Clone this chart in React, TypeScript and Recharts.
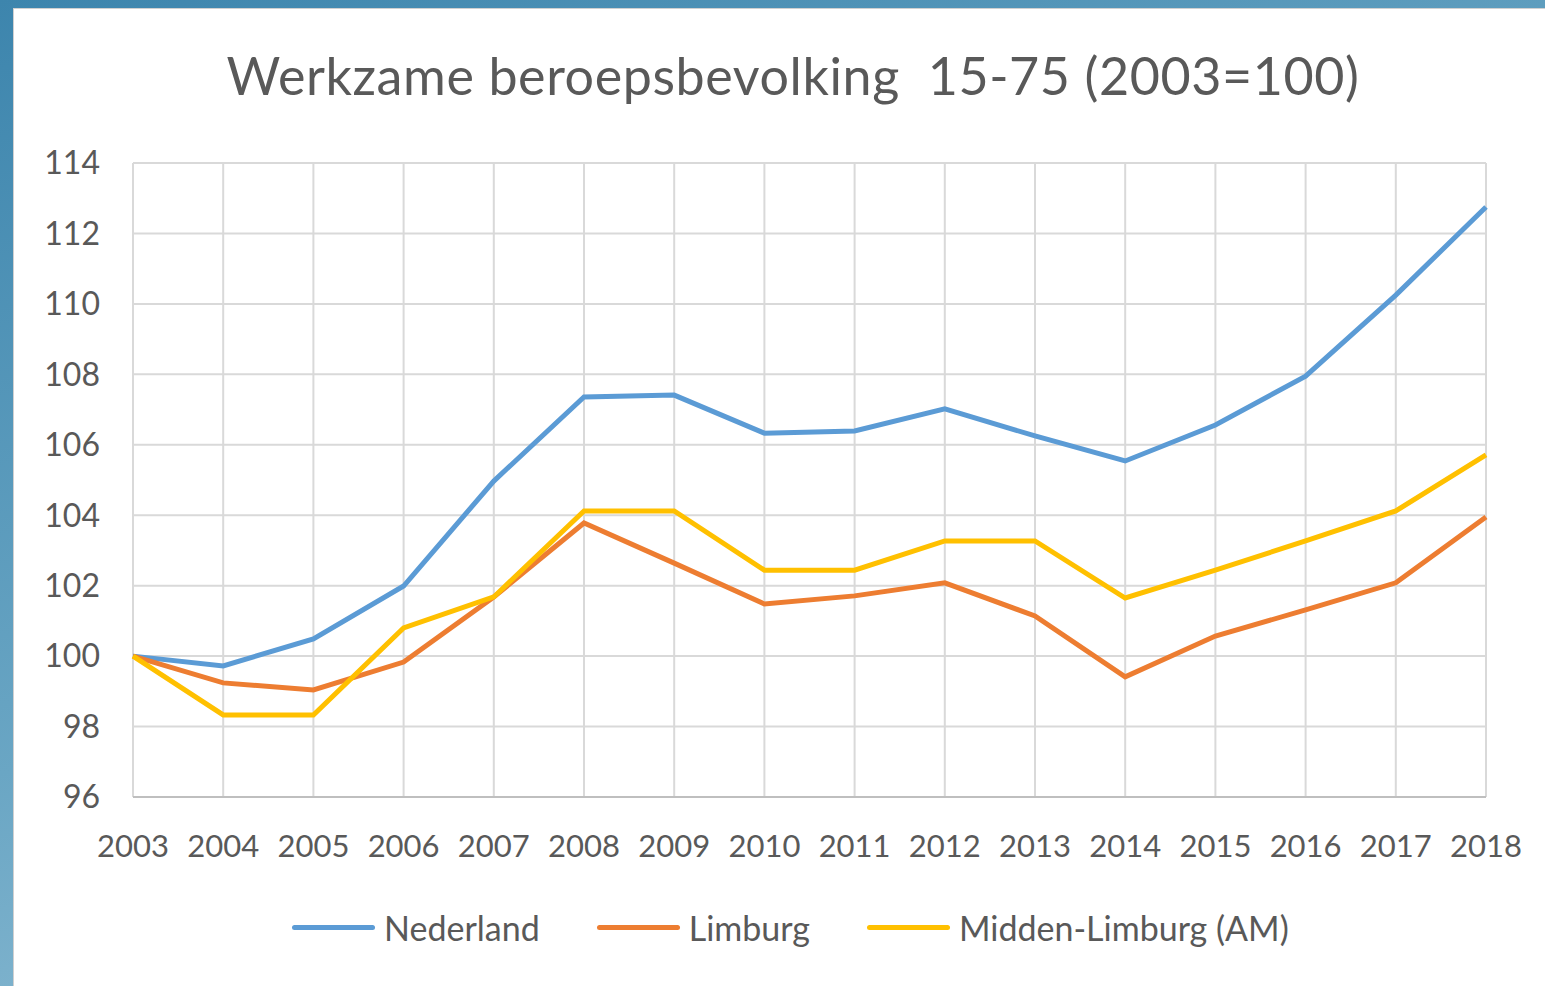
import React from "react";
import { LineChart, Line, XAxis, YAxis, CartesianGrid } from "recharts";

const years = ["2003", "2004", "2005", "2006", "2007", "2008", "2009", "2010", "2011", "2012", "2013", "2014", "2015", "2016", "2017", "2018"];
const nederland = [100, 99.72, 100.49, 101.99, 104.97, 107.36, 107.41, 106.33, 106.39, 107.02, 106.25, 105.54, 106.56, 107.95, 110.25, 112.75];
const limburg = [100, 99.24, 99.04, 99.83, 101.68, 103.78, 102.64, 101.48, 101.71, 102.08, 101.14, 99.41, 100.57, 101.31, 102.08, 103.95];
const middenLimburg = [100, 98.33, 98.33, 100.8, 101.68, 104.12, 104.12, 102.44, 102.44, 103.27, 103.27, 101.65, 102.44, 103.27, 104.12, 105.71];
const yTicks = [96, 98, 100, 102, 104, 106, 108, 110, 112, 114];

const series = [
  { key: "nl", name: "Nederland", color: "#5b9bd5", values: nederland },
  { key: "li", name: "Limburg", color: "#ed7d31", values: limburg },
  { key: "ml", name: "Midden-Limburg (AM)", color: "#ffc000", values: middenLimburg },
];

const data = years.map((year, i) => {
  const row: Record<string, string | number> = { year };
  series.forEach((s) => (row[s.key] = s.values[i]));
  return row;
});

const font = "Lato, 'Open Sans', sans-serif";
const textColor = "#595959";

export default function App() {
  return (
    <div
      style={{
        position: "absolute",
        left: 0,
        top: 0,
        width: 1545,
        height: 986,
        overflow: "hidden",
        background: "linear-gradient(160deg, #3d85ad 0%, #6aa6c4 50%, #a9cde0 100%)",
        fontFamily: font,
      }}
    >
      <div
        style={{
          position: "absolute",
          left: 13,
          top: 8,
          width: 1540,
          height: 990,
          background: "#fff",
          border: "1px solid #d0d0d0",
          boxSizing: "border-box",
        }}
      />
      <div
        style={{
          position: "absolute",
          left: 13,
          width: 1560,
          top: 44,
          textAlign: "center",
          fontSize: 52,
          color: textColor,
          letterSpacing: 0.6,
        }}
      >
        Werkzame beroepsbevolking&nbsp; 15-75 (2003=100)
      </div>
      <div style={{ position: "absolute", left: 0, top: 0 }}>
        <LineChart width={1545} height={986} data={data} margin={{ top: 163, right: 59, bottom: 129, left: 43 }}>
          <CartesianGrid stroke="#d9d9d9" strokeWidth={2} />
          <XAxis
            dataKey="year"
            axisLine={{ stroke: "#bfbfbf", strokeWidth: 2 }}
            tickLine={false}
            height={60}
            tickMargin={32}
            interval={0}
            tick={{ fill: textColor, fontSize: 31, fontFamily: font }}
          />
          <YAxis
            domain={[96, 114]}
            ticks={yTicks}
            width={90}
            axisLine={false}
            tickLine={false}
            tickMargin={27}
            tick={{ fill: textColor, fontSize: 32, fontFamily: font }}
          />
          {series.map((s) => (
            <Line
              key={s.key}
              dataKey={s.key}
              name={s.name}
              stroke={s.color}
              strokeWidth={5}
              dot={false}
              isAnimationActive={false}
            />
          ))}
        </LineChart>
      </div>
      <div
        style={{
          position: "absolute",
          top: 907,
          left: 292,
          display: "flex",
          alignItems: "center",
          fontSize: 34,
          color: textColor,
          whiteSpace: "nowrap",
        }}
      >
        {series.map((s, i) => (
          <div key={s.key} style={{ display: "flex", alignItems: "center", marginRight: i < series.length - 1 ? 57 : 0 }}>
            <div style={{ width: 83, height: 5, borderRadius: 3, background: s.color, marginRight: 9 }} />
            <span>{s.name}</span>
          </div>
        ))}
      </div>
    </div>
  );
}
